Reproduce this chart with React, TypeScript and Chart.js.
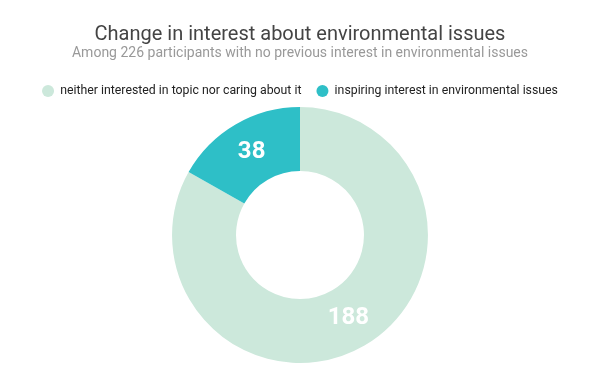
import React, { useEffect, useRef } from "react";
import { Chart, registerables } from "chart.js";

Chart.register(...registerables);

const categories = [
  "neither interested in topic nor caring about it",
  "inspiring interest in environmental issues",
];
const values = [188, 38];
const colors = ["#cce8db", "#2ebfc7"];

const labelPlugin = {
  id: "sliceLabels",
  afterDatasetsDraw(chart: any) {
    const ctx = chart.ctx;
    const meta = chart.getDatasetMeta(0);
    ctx.save();
    ctx.fillStyle = "#ffffff";
    ctx.font = "bold 24px Roboto";
    ctx.textAlign = "center";
    ctx.textBaseline = "middle";
    meta.data.forEach((el: any, i: number) => {
      const p = el.tooltipPosition();
      ctx.fillText(String(values[i]), p.x, p.y);
    });
    ctx.restore();
  },
};

export default function App() {
  const ref = useRef<HTMLCanvasElement>(null);
  useEffect(() => {
    document.body.style.margin = "0";
    const chart = new Chart(ref.current!, {
      type: "doughnut",
      data: {
        labels: categories,
        datasets: [
          {
            data: values,
            backgroundColor: colors,
            borderWidth: 0,
          },
        ],
      },
      options: {
        animation: false,
        responsive: false,
        cutout: "50%",
        layout: { padding: { bottom: 21 } },
        plugins: {
          title: {
            display: true,
            text: "Change in interest about environmental issues",
            font: { family: "Roboto", size: 20, weight: "normal", lineHeight: 1.0 },
            color: "#444444",
            padding: { top: 25, bottom: 0 },
          },
          subtitle: {
            display: true,
            text: "Among 226 participants with no previous interest in environmental issues",
            font: { family: "Roboto", size: 14, weight: "normal" },
            color: "#999999",
            padding: { top: 0, bottom: 8 },
          },
          legend: {
            position: "top",
            labels: {
              usePointStyle: true,
              pointStyle: "circle",
              boxWidth: 12,
              boxHeight: 8.5,
              color: "#222222",
              font: { family: "Roboto", size: 12.3 },
              padding: 15,
            },
          },
          tooltip: { enabled: false },
        },
      },
      plugins: [labelPlugin],
    });
    return () => chart.destroy();
  }, []);
  return <canvas ref={ref} width={600} height={384} style={{ display: "block" }} />;
}
